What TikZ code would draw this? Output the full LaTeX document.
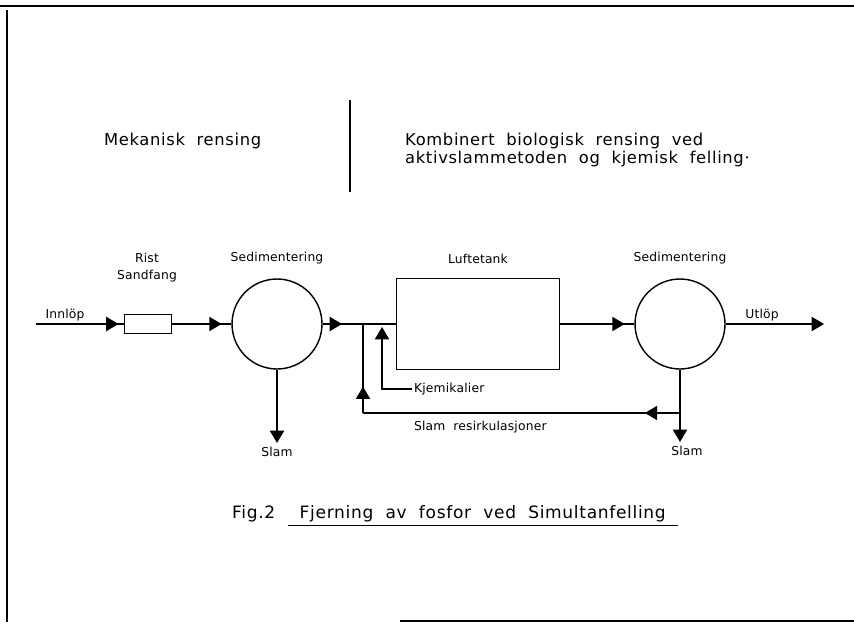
\documentclass[tikz,border=0pt]{standalone}
\usepackage{fontspec}
\setsansfont{DejaVu Sans}[LetterSpace=4,WordSpace=2]
\usetikzlibrary{arrows.meta,positioning,decorations.markings}
\tikzset{
    flow/.style={line width=1pt, draw=black},
    tankbox/.style={rectangle, draw=black, line width=0.8pt, inner sep=0pt},
    settler/.style={circle, draw=black, line width=0.8pt, minimum size=1.8cm, inner sep=0pt},
    smalltext/.style={font=\sffamily\fontsize{7}{9.6}\selectfont\addfontfeatures{LetterSpace=1.5}, inner sep=1pt},
    headtext/.style={font=\sffamily\fontsize{9.3}{9.8}\selectfont, align=left},
    endarrow/.style={-{Triangle[length=7pt,width=8pt]}},
    midarrow/.style={postaction={decorate}, decoration={markings,
        mark=at position #1 with {\arrow{Triangle[length=7pt,width=8pt]}}}},
}

\begin{document}
\begin{tikzpicture}[x=0.02cm, y=-0.02cm, font=\sffamily]
    \useasboundingbox (0,0) rectangle (854,625);
    % frame of the sheet
    \draw[line width=1.6pt] (0,6) -- (854,6);
    \draw[line width=1.1pt] (7,10) -- (7,622);
    \draw[line width=1.1pt] (400,621) -- (854,621);

    % headings
    \node[headtext, anchor=west] (mek) at (98,141) {Mekanisk rensing};
    \coordinate (divtop) at (350,100);
    \coordinate (divbot) at (350,192);
    \draw[line width=0.6pt] (divtop) -- (divbot);
    \node[headtext, anchor=west] (komb) at (399,150) {Kombinert biologisk rensing ved\\aktivslammetoden og kjemisk felling·};

    % process units
    \coordinate (inlet) at (36,324);
    \node[tankbox, minimum width=0.94cm, minimum height=0.38cm] (rist) at (148,324) {};
    \node[settler] (sed1) at (277,324) {};
    \node[tankbox, minimum width=3.26cm, minimum height=1.82cm] (luft) at (478,324) {};
    \node[settler] (sed2) at (680,324) {};
    \coordinate (outlet) at (824,324);
    \coordinate (junction) at (363,324);
    \coordinate (kjemtip) at (382,327);
    \coordinate (slam1) at (277,443);
    \coordinate (slam2) at (680,442);
    \coordinate (split) at (680,413);
    \coordinate (ret) at (363,413);

    % labels
    \node[smalltext, align=center] (ristlbl) at (147,268) {Rist\\Sandfang};
    \node[smalltext, above=7pt of sed1] (sedlbl1) {Sedimentering};
    \node[smalltext, above=7pt of luft] (luftlbl) {Luftetank};
    \node[smalltext, above=7pt of sed2] (sedlbl2) {Sedimentering};
    \node[smalltext, below=1pt of slam1] (slamlbl1) {Slam};
    \node[smalltext, below=1pt of slam2, xshift=4pt] (slamlbl2) {Slam};
    \node[smalltext, anchor=west] (kjem) at (412,389) {Kjemikalier};

    % flow lines
    \draw[flow, midarrow=-3pt] (inlet) -- node[smalltext, above, pos=0.33] (innlbl) {Innlöp} (rist);
    \draw[flow, midarrow=-5.5pt] (rist) -- (sed1);
    \draw[flow, midarrow=11pt] (sed1) -- (luft);
    \draw[flow, midarrow=-5.5pt] (luft) -- (sed2);
    \draw[flow, endarrow] (sed2) -- node[smalltext, above, pos=0.37] (utlbl) {Utlöp} (outlet);
    \draw[flow, endarrow] (sed1) -- (slam1);
    \draw[flow, endarrow] (sed2) -- (slam2);
    \draw[flow, endarrow] (kjem.west) -| (kjemtip);
    \draw[flow, midarrow=20pt] (split) -- node[smalltext, below=3pt, pos=0.63] (recirclbl) {Slam resirkulasjoner} (ret);
    \draw[flow, midarrow=15pt] (ret) -- (junction);

    % caption
    \node[anchor=west, font=\sffamily\fontsize{9.7}{12}\selectfont] (caption) at (226,516) {Fig.2 \underline{\ Fjerning av fosfor ved Simultanfelling\ }};
\end{tikzpicture}
\end{document}
